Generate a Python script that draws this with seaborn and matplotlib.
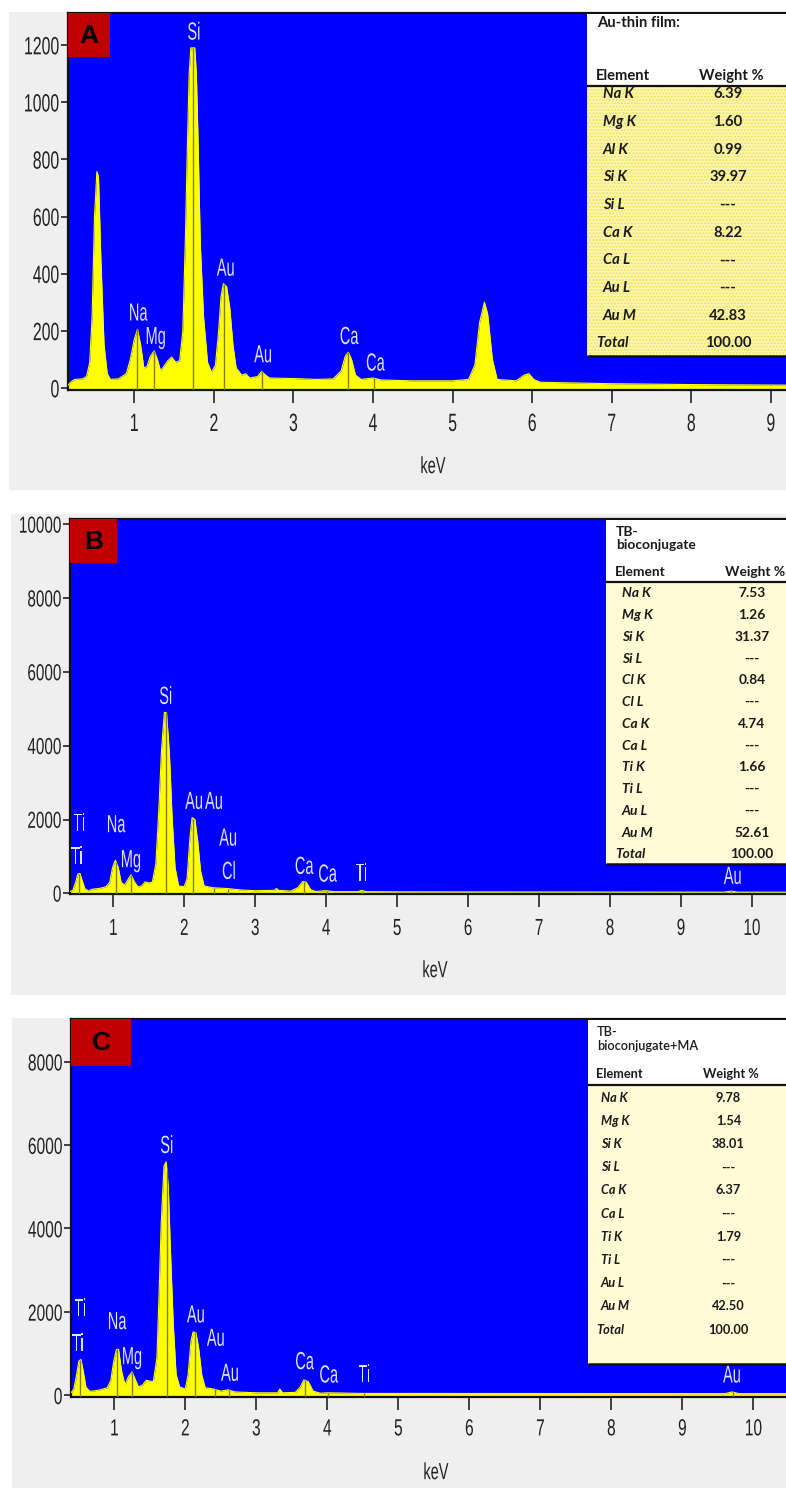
import numpy as np
import pandas as pd
import matplotlib
matplotlib.use("Agg")
import matplotlib.pyplot as plt
import seaborn as sns
from matplotlib.patches import Rectangle
from matplotlib.patheffects import AbstractPathEffect
from matplotlib.transforms import Affine2D
from matplotlib import font_manager

# ---------------- data ----------------
A_kev = [0.17, 0.20, 0.25, 0.35, 0.40, 0.44, 0.47, 0.50, 0.53, 0.55, 0.58, 0.62, 0.66, 0.70, 0.80,
         0.90, 0.95, 1.00, 1.04, 1.08, 1.12, 1.16, 1.20, 1.25, 1.29, 1.33, 1.37, 1.42, 1.47, 1.52,
         1.57, 1.61, 1.64, 1.67, 1.69, 1.71, 1.76, 1.78, 1.80, 1.83, 1.87, 1.92, 1.97, 2.02, 2.06,
         2.09, 2.12, 2.16, 2.20, 2.24, 2.28, 2.35, 2.40, 2.45, 2.55, 2.60, 2.65, 2.70, 3.00, 3.30,
         3.50, 3.60, 3.65, 3.69, 3.73, 3.78, 3.85, 4.00, 4.10, 4.50, 5.00, 5.20, 5.28, 5.34, 5.40,
         5.44, 5.50, 5.56, 5.80, 5.90, 5.96, 6.02, 6.10, 7.00, 8.00, 9.20]
A_counts = [10, 20, 30, 32, 40, 90, 250, 600, 757, 740, 450, 150, 50, 30, 32,
            50, 100, 170, 205, 150, 70, 75, 110, 130, 100, 60, 75, 95, 108, 90,
            95, 200, 500, 880, 1100, 1190, 1190, 1100, 880, 500, 250, 90, 55, 80, 200,
            320, 365, 355, 280, 150, 70, 45, 50, 35, 40, 58, 45, 35, 33, 30,
            32, 60, 110, 125, 100, 45, 30, 35, 28, 25, 25, 30, 80, 230, 300,
            260, 100, 30, 25, 45, 50, 30, 20, 15, 12, 10]

B_kev = [0.39, 0.43, 0.47, 0.50, 0.53, 0.56, 0.60, 0.65, 0.70, 0.80, 0.90, 0.95, 0.99, 1.03, 1.07,
         1.11, 1.16, 1.20, 1.25, 1.30, 1.35, 1.40, 1.45, 1.50, 1.55, 1.60, 1.64, 1.68, 1.72, 1.75,
         1.79, 1.83, 1.87, 1.92, 2.00, 2.04, 2.08, 2.11, 2.15, 2.19, 2.23, 2.28, 2.40, 2.60, 2.80,
         3.00, 3.27, 3.30, 3.33, 3.50, 3.60, 3.67, 3.72, 3.78, 3.85, 4.00, 4.10, 4.45, 4.50, 4.56,
         5.00, 9.60, 9.71, 9.80, 10.48]
B_counts = [50, 80, 300, 520, 540, 350, 120, 60, 110, 130, 180, 300, 700, 900, 700,
            300, 220, 350, 500, 300, 170, 200, 310, 280, 300, 800, 2200, 3900, 4900, 4900,
            3800, 2000, 700, 200, 180, 400, 1500, 2050, 2000, 1400, 600, 200, 150, 130, 90,
            70, 80, 130, 80, 60, 150, 320, 300, 100, 50, 70, 45, 45, 80, 45,
            40, 30, 60, 30, 30]

C_kev = [0.39, 0.43, 0.47, 0.50, 0.53, 0.56, 0.60, 0.65, 0.70, 0.80, 0.90, 0.95, 0.99, 1.03, 1.06,
         1.10, 1.15, 1.20, 1.25, 1.29, 1.34, 1.40, 1.45, 1.50, 1.55, 1.60, 1.63, 1.66, 1.70, 1.73,
         1.76, 1.79, 1.83, 1.87, 1.92, 2.00, 2.04, 2.08, 2.11, 2.15, 2.19, 2.23, 2.28, 2.40, 2.50,
         2.60, 2.70, 3.00, 3.30, 3.33, 3.37, 3.55, 3.62, 3.67, 3.73, 3.80, 3.90, 4.00, 4.50, 9.60,
         9.70, 9.80, 10.46]
C_counts = [60, 150, 500, 820, 860, 600, 200, 100, 100, 130, 180, 350, 800, 1100, 1100,
            600, 250, 450, 560, 400, 200, 250, 360, 340, 330, 900, 2400, 4100, 5500, 5600,
            5000, 3500, 1700, 500, 200, 150, 500, 1300, 1520, 1500, 1100, 500, 180, 150, 100,
            130, 80, 60, 60, 150, 60, 70, 200, 370, 330, 100, 50, 60, 45, 40,
            80, 40, 40]

A_marker_kev = [1.04, 1.25, 1.74, 2.13, 2.60, 3.69, 4.01]
B_marker_kev = [0.52, 1.04, 1.25, 1.74, 2.13, 2.42, 2.62, 3.69, 4.01, 4.51, 9.71]
C_marker_kev = [0.52, 1.04, 1.25, 1.74, 2.13, 2.42, 2.62, 3.69, 4.01, 4.51, 9.71]

A_labels = ["Na", "Mg", "Si", "Au", "Au", "Ca", "Ca"]
A_label_kev = [1.05, 1.27, 1.75, 2.15, 2.62, 3.70, 4.03]
A_label_cts = [267, 185, 1250, 424, 121, 185, 92]

B_labels = ["Ti", "Ti", "Na", "Mg", "Si", "Au", "Au", "Au", "Cl", "Ca", "Ca", "Ti", "Au"]
B_label_kev = [0.52, 0.49, 1.04, 1.25, 1.74, 2.14, 2.42, 2.62, 2.63, 3.69, 4.02, 4.50, 9.73]
B_label_cts = [1940, 1038, 1897, 948, 5374, 2528, 2528, 1534, 631, 767, 558, 585, 496]

C_labels = ["Ti", "Ti", "Na", "Mg", "Si", "Au", "Au", "Au", "Ca", "Ca", "Ti", "Au"]
C_label_kev = [0.52, 0.49, 1.04, 1.25, 1.74, 2.15, 2.43, 2.63, 3.68, 4.02, 4.52, 9.70]
C_label_cts = [2120, 1280, 1800, 960, 6024, 1960, 1400, 560, 840, 520, 536, 520]

A_xticks = [1, 2, 3, 4, 5, 6, 7, 8, 9]
A_yticks = [0, 200, 400, 600, 800, 1000, 1200]
B_xticks = [1, 2, 3, 4, 5, 6, 7, 8, 9, 10]
B_yticks = [0, 2000, 4000, 6000, 8000, 10000]
C_xticks = [1, 2, 3, 4, 5, 6, 7, 8, 9, 10]
C_yticks = [0, 2000, 4000, 6000, 8000]
x_label = "keV"

A_title = "Au-thin film:"
A_elements = ["Na K", "Mg K", "Al K", "Si K", "Si L", "Ca K", "Ca L", "Au L", "Au M", "Total"]
A_weights = ["6.39", "1.60", "0.99", "39.97", "---", "8.22", "---", "---", "42.83", "100.00"]
B_title = "TB-\nbioconjugate"
B_elements = ["Na K", "Mg K", "Si K", "Si L", "Cl K", "Cl L", "Ca K", "Ca L", "Ti K", "Ti L",
              "Au L", "Au M", "Total"]
B_weights = ["7.53", "1.26", "31.37", "---", "0.84", "---", "4.74", "---", "1.66", "---",
             "---", "52.61", "100.00"]
C_title = "TB-\nbioconjugate+MA"
C_elements = ["Na K", "Mg K", "Si K", "Si L", "Ca K", "Ca L", "Ti K", "Ti L", "Au L", "Au M", "Total"]
C_weights = ["9.78", "1.54", "38.01", "---", "6.37", "---", "1.79", "---", "---", "42.50", "100.00"]
table_header = ["Element", "Weight %"]
panel_letters = ["A", "B", "C"]

# ---------------- style ----------------
sns.set_theme(style="ticks")
plt.rcParams['font.family'] = ['DejaVu Sans']


def has_font(name):
    try:
        font_manager.findfont(font_manager.FontProperties(family=name), fallback_to_default=False)
        return True
    except Exception:
        return False


NARROW = 'Liberation Sans Narrow' if has_font('Liberation Sans Narrow') else 'Liberation Sans'
TFONT = 'Lato' if has_font('Lato') else 'DejaVu Sans'


class VStretch(AbstractPathEffect):
    """Stretch glyphs vertically around the middle of the cap height."""
    def __init__(self, sy, cy=35.8):
        super().__init__()
        self.sy = sy
        self.cy = cy

    def draw_path(self, renderer, gc, tpath, affine, rgbFace=None):
        t = Affine2D().translate(0, -self.cy).scale(1, self.sy).translate(0, self.cy) + affine
        renderer.draw_path(gc, tpath, t, rgbFace)


W, H = 786, 1488
fig = plt.figure(figsize=(W / 100, H / 100), dpi=100, facecolor='white')


def frect(l, t, r, b):
    return [l / W, 1 - b / H, (r - l) / W, (b - t) / H]


bg = fig.add_axes([0, 0, 1, 1], zorder=0)
bg.set_xlim(0, W); bg.set_ylim(H, 0); bg.axis('off')
for (l, t, r, b) in [(9, 12, 786, 490), (11, 514, 786, 995), (12, 1018, 786, 1488)]:
    bg.add_patch(Rectangle((l, t), r - l, b - t, facecolor='#efefef', edgecolor='none'))

ov = fig.add_axes([0, 0, 1, 1], zorder=10)
ov.set_xlim(0, W); ov.set_ylim(H, 0); ov.axis('off')
ov.patch.set_alpha(0)

panels = [
    dict(kev=A_kev, cts=A_counts, mk=A_marker_kev, lab=A_labels, lk=A_label_kev, lc=A_label_cts,
         xt=A_xticks, yt=A_yticks, box=(68, 13, 786, 390), xlim=(0.167, 9.19), ylim=(-7, 1312),
         xpad=9.0, tick_fs=11.4, tick_sy=1.58,
         letter_box=(68, 13, 110, 57), kev_pos=(433, 466),
         title=A_title, elements=A_elements, weights=A_weights,
         tbl=dict(left=587, top=14, hline=86, bottom=356, title_y=23, title_dy=14, head_y=76,
                  head_x=596, weight_x=731, row_y0=94.3, row_dy=27.67, elem_x=602.7, total_x=596.7,
                  val_x=728, body='#fbf6b0', hatch=True, fs=10.6, title_w='bold')),
    dict(kev=B_kev, cts=B_counts, mk=B_marker_kev, lab=B_labels, lk=B_label_kev, lc=B_label_cts,
         xt=B_xticks, yt=B_yticks, box=(70, 519, 786, 894), xlim=(0.39, 10.48), ylim=(-19, 10144),
         xpad=10.0, tick_fs=11.0, tick_sy=1.52,
         letter_box=(70, 519, 117, 563), kev_pos=(435, 970),
         title=B_title, elements=B_elements, weights=B_weights,
         tbl=dict(left=606, top=520, hline=582, bottom=864, title_y=531.7, title_dy=13.3, head_y=572,
                  head_x=615, weight_x=755, row_y0=593.3, row_dy=21.75, elem_x=621.7, total_x=615,
                  val_x=752, body='#fffcd6', hatch=False, fs=9.9, title_w='bold')),
    dict(kev=C_kev, cts=C_counts, mk=C_marker_kev, lab=C_labels, lk=C_label_kev, lc=C_label_cts,
         xt=C_xticks, yt=C_yticks, box=(71, 1019, 786, 1397), xlim=(0.39, 10.46), ylim=(-41, 9024),
         xpad=7.5, tick_fs=11.2, tick_sy=1.5,
         letter_box=(71, 1019, 131, 1066), kev_pos=(436, 1472),
         title=C_title, elements=C_elements, weights=C_weights,
         tbl=dict(left=588, top=1020, hline=1085, bottom=1364, title_y=1032.3, title_dy=13.7, head_y=1074.3,
                  head_x=596, weight_x=731, row_y0=1097.7, row_dy=23.2, elem_x=601, total_x=596,
                  val_x=728.3, body='#fffcd6', hatch=False, fs=9.2, title_w='semibold')),
]

YELLOW = '#ffff00'
BLUE = '#0000ff'

for i, p in enumerate(panels):
    ax = fig.add_axes(frect(*p['box']), zorder=2)
    ax.set_facecolor(BLUE)
    df = pd.DataFrame({'keV': p['kev'], 'counts': p['cts']})
    ymin = p['ylim'][0]
    ax.fill_between(df['keV'], df['counts'], ymin, color=YELLOW, lw=0, zorder=2)
    sns.lineplot(data=df, x='keV', y='counts', ax=ax, color=YELLOW, lw=0.8, zorder=3)
    mk = np.asarray(p['mk'])
    tops = np.interp(mk, df['keV'], df['counts'])
    ax.vlines(mk, ymin, tops, color='#80800a', lw=1.0, zorder=4)
    for txt, xk, yc in zip(p['lab'], p['lk'], p['lc']):
        ax.annotate(txt, (xk, yc), xytext=(0, -0.358 * 10.5), textcoords='offset points',
                    ha='center', va='baseline', fontsize=10.5, family=NARROW,
                    color='#e2e2ff', path_effects=[VStretch(1.7)], zorder=6)
    ax.set_xlim(*p['xlim'])
    ax.set_ylim(*p['ylim'])
    ax.set_xticks(p['xt'], labels=[str(v) for v in p['xt']])
    ax.set_yticks(p['yt'], labels=[str(v) for v in p['yt']])
    ax.set_xlabel('')
    ax.set_ylabel('')
    for s in ['left', 'bottom', 'top']:
        ax.spines[s].set_visible(True)
        ax.spines[s].set_color('#111111')
        ax.spines[s].set_linewidth(1.6)
    ax.spines['right'].set_visible(False)
    ax.tick_params(axis='x', direction='out', length=9.5, width=1.2, pad=p['xpad'],
                   labelsize=p['tick_fs'], colors='#222222')
    ax.tick_params(axis='y', direction='out', length=5.0, width=1.2, pad=1.2,
                   labelsize=p['tick_fs'], colors='#222222')
    for lbl in ax.get_xticklabels() + ax.get_yticklabels():
        lbl.set_fontfamily(NARROW)
        lbl.set_path_effects([VStretch(p['tick_sy'])])

    # panel letter
    l, t, r, b = p['letter_box']
    ov.add_patch(Rectangle((l, t), r - l, b - t, facecolor='#c00000', edgecolor='none'))
    ov.text((l + r) / 2, (t + b) / 2 + 1, panel_letters[i], ha='center', va='center',
            fontsize=19, fontweight='bold', family='Liberation Sans', color='black')

    # x label
    kx, ky = p['kev_pos']
    ov.text(kx, ky + 4, x_label, ha='center', va='baseline', fontsize=10.5, family=NARROW,
            color='#222222', path_effects=[VStretch(1.6)])

    # table
    tb = p['tbl']
    ov.add_patch(Rectangle((tb['left'], tb['top']), W - tb['left'], tb['hline'] - tb['top'],
                           facecolor='white', edgecolor='none'))
    if tb['hatch']:
        ov.add_patch(Rectangle((tb['left'], tb['hline']), W - tb['left'], tb['bottom'] - tb['hline'],
                               facecolor=tb['body'], edgecolor='#efe35a', hatch='.....', lw=0))
    else:
        ov.add_patch(Rectangle((tb['left'], tb['hline']), W - tb['left'], tb['bottom'] - tb['hline'],
                               facecolor=tb['body'], edgecolor='none'))
    ov.plot([tb['left'], W], [tb['hline'], tb['hline']], color='#111111', lw=1.6, solid_capstyle='butt')
    ov.plot([tb['left'], W], [tb['bottom'], tb['bottom']], color='#111111', lw=1.8, solid_capstyle='butt')
    fs = tb['fs']
    for j, line in enumerate(p['title'].split('\n')):
        ov.text(tb['head_x'] + 1, tb['title_y'] + j * tb['title_dy'], line, ha='left', va='center',
                fontsize=fs, fontweight=tb['title_w'], family=TFONT, color='#1a1a1a')
    ov.text(tb['head_x'], tb['head_y'], table_header[0], ha='left', va='center',
            fontsize=fs, fontweight='bold', family=TFONT, color='#1a1a1a')
    ov.text(tb['weight_x'], tb['head_y'], table_header[1], ha='center', va='center',
            fontsize=fs, fontweight='bold', family=TFONT, color='#1a1a1a')
    for j, (el, wt) in enumerate(zip(p['elements'], p['weights'])):
        yy = tb['row_y0'] + j * tb['row_dy']
        ex = tb['total_x'] if el == 'Total' else tb['elem_x']
        ov.text(ex, yy, el, ha='left', va='center', fontsize=fs, fontweight='bold',
                fontstyle='italic', family=TFONT, color='#1a1a1a')
        ov.text(tb['val_x'], yy, wt, ha='center', va='center', fontsize=fs, fontweight='bold',
                family=TFONT, color='#1a1a1a')

fig.savefig('out.png', dpi=100, facecolor='white')
